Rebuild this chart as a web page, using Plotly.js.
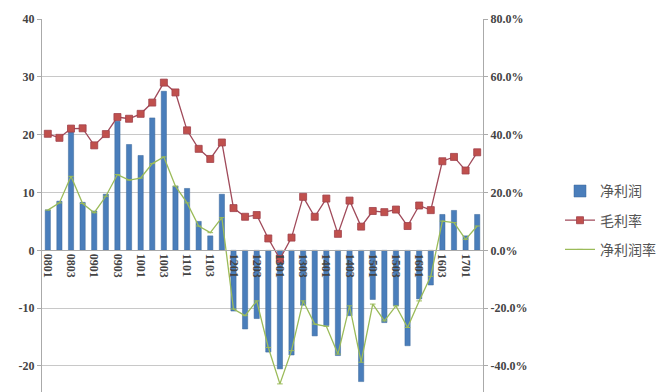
<!DOCTYPE html>
<html>
<head>
<meta charset="utf-8">
<script src="https://cdn.plot.ly/plotly-3.0.1.min.js"></script>
<style>html,body{margin:0;padding:0;background:#fff;}#chart{width:661px;height:392px;}</style>
</head>
<body>
<div id="chart"></div>
<script>
const categories = ['0801','0802','0803','0804','0901','0902','0903','0904','1001','1002','1003','1004',
  '1101','1102','1103','1104','1201','1202','1203','1204','1301','1302','1303','1304',
  '1401','1402','1403','1404','1501','1502','1503','1504','1601','1602','1603','1604','1701','1702'];
const netProfit = [7.0, 8.5, 21.0, 8.3, 6.8, 9.7, 22.3, 18.3, 16.4, 22.9, 27.5, 11.1,
  10.7, 5.0, 2.5, 9.7, -10.5, -13.6, -11.8, -17.6, -20.5, -18.1, -9.5, -14.8,
  -13.0, -18.2, -11.3, -22.7, -8.5, -12.5, -9.6, -16.5, -8.4, -6.0, 6.2, 6.9, 2.5, 6.2];
const grossMargin = [40.3, 38.9, 42.1, 42.2, 36.3, 40.2, 46.1, 45.5, 47.2, 51.1, 58.0, 54.6,
  41.5, 35.1, 31.6, 37.3, 14.6, 11.6, 12.2, 4.1, -3.0, 4.4, 18.5, 11.6,
  17.9, 5.7, 17.2, 8.2, 13.6, 13.2, 14.1, 8.4, 15.5, 13.9, 30.8, 32.3, 27.6, 33.9];
const netMargin = [13.9, 16.4, 25.6, 16.2, 13.0, 18.7, 26.2, 24.3, 25.0, 30.0, 32.3, 22.2,
  16.4, 8.4, 6.1, 11.3, -20.3, -22.6, -17.5, -33.6, -46.2, -34.7, -17.5, -25.5,
  -26.3, -35.9, -19.2, -38.7, -18.6, -24.4, -19.2, -26.7, -17.5, -9.0, 10.1, 9.6, 3.8, 8.4];
const tickLabels = categories.filter((c, i) => i % 2 === 0);
const leftTicks = [-20, -10, 0, 10, 20, 30, 40];
const leftTickText = ['-20', '-10', '0', '10', '20', '30', '40'];
const rightTicks = [-40, -20, 0, 20, 40, 60, 80];
const rightTickText = ['-40.0%', '-20.0%', '0.0%', '20.0%', '40.0%', '60.0%', '80.0%'];
const names = ['净利润', '毛利率', '净利润率'];

const yMin = -24.5, yMax = 40;
const tickFont = {family: 'Liberation Serif, serif', size: 12, color: '#444', weight: 'bold'};

const data = [
  {type: 'bar', name: names[0], legendgroup: 'a', x: categories, y: netProfit, yaxis: 'y',
   marker: {color: '#4A7EBB', line: {color: '#3A6699', width: 0.5}}},
  {type: 'scatter', mode: 'lines+markers', name: names[1], legendgroup: 'b', x: categories, y: grossMargin, yaxis: 'y2',
   line: {color: '#A04A5A', width: 1.3}, marker: {symbol: 'square', size: 7, color: '#C0504D', line: {color: '#A0404A', width: 0.8}}},
  {type: 'scatter', mode: 'lines+markers', name: names[2], legendgroup: 'c', x: categories, y: netMargin, yaxis: 'y2',
   line: {color: '#9BBB59', width: 1.3}, marker: {symbol: 'line-ew', size: 4, color: '#9BBB59', line: {color: '#9BBB59', width: 1}}}
];

const layout = {
  width: 661, height: 392,
  margin: {l: 42, r: 177, t: 19, b: 0},
  paper_bgcolor: '#fff', plot_bgcolor: '#fff',
  bargap: 0.55,
  showlegend: true,
  legend: {x: 1.175, y: 0.46, xanchor: 'left', yanchor: 'middle', traceorder: 'grouped',
    font: {family: 'Noto Sans CJK SC, sans-serif', size: 14, color: '#555'},
    tracegroupgap: 8, itemwidth: 30},
  xaxis: {type: 'category', tickmode: 'array', tickvals: tickLabels, ticktext: tickLabels,
    tickangle: 90, tickfont: tickFont, showgrid: false, showline: true, linecolor: '#aaa',
    ticks: '', anchor: 'free', position: -yMin / (yMax - yMin), layer: 'above traces',
    range: [-0.5, categories.length - 0.5]},
  yaxis: {range: [yMin, yMax], tickmode: 'array', tickvals: leftTicks, ticktext: leftTickText, tickfont: tickFont, showgrid: true,
    gridcolor: '#c8c8c8', gridwidth: 1, zeroline: false, showline: true, linecolor: '#aaa',
    ticks: 'outside', ticklen: 4, tickcolor: '#aaa'},
  yaxis2: {range: [yMin * 2, yMax * 2], tickmode: 'array', tickvals: rightTicks, ticktext: rightTickText, overlaying: 'y', side: 'right',
    tickfont: tickFont, showgrid: false, zeroline: false,
    showline: true, linecolor: '#aaa', ticks: 'outside', ticklen: 4, tickcolor: '#aaa'}
};

Plotly.newPlot('chart', data, layout, {displayModeBar: false, staticPlot: true});
</script>
</body>
</html>
